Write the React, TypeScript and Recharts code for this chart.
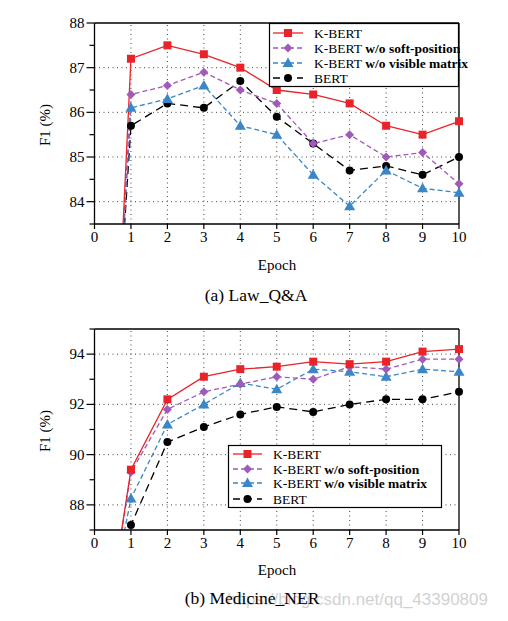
import React from "react";
import { LineChart, Line, XAxis, YAxis, ReferenceLine } from "recharts";

const epochs = [0, 1, 2, 3, 4, 5, 6, 7, 8, 9, 10];

// Law_Q&A (epoch 0 values lie below the visible range and are clipped)
const lawKBert = [70, 87.2, 87.5, 87.3, 87.0, 86.5, 86.4, 86.2, 85.7, 85.5, 85.8];
const lawSoftPos = [72, 86.4, 86.6, 86.9, 86.5, 86.2, 85.3, 85.5, 85.0, 85.1, 84.4];
const lawVisible = [72, 86.1, 86.3, 86.6, 85.7, 85.5, 84.6, 83.9, 84.7, 84.3, 84.2];
const lawBert = [73, 85.7, 86.2, 86.1, 86.7, 85.9, 85.3, 84.7, 84.8, 84.6, 85.0];

// Medicine_NER
const medKBert = [80, 89.4, 92.2, 93.1, 93.4, 93.5, 93.7, 93.6, 93.7, 94.1, 94.2];
const medSoftPos = [80, 89.3, 91.8, 92.5, 92.8, 93.1, 93.0, 93.5, 93.4, 93.8, 93.8];
const medVisible = [81, 88.25, 91.2, 92.0, 92.85, 92.6, 93.4, 93.3, 93.1, 93.4, 93.3];
const medBert = [80, 87.2, 90.5, 91.1, 91.6, 91.9, 91.7, 92.0, 92.2, 92.2, 92.5];

const xTicks = [0, 1, 2, 3, 4, 5, 6, 7, 8, 9, 10];
const lawYMajor = [84, 85, 86, 87, 88];
const lawYAll = [83.5, 84, 84.5, 85, 85.5, 86, 86.5, 87, 87.5, 88];
const medYMajor = [88, 90, 92, 94];
const medYAll = [87, 88, 89, 90, 91, 92, 93, 94, 95];

const seriesNames = ["K-BERT", "K-BERT w/o soft-position", "K-BERT w/o visible matrix", "BERT"];

const RED = "#e8232a";
const PURPLE = "#a05ab8";
const BLUE = "#3a86c6";
const BLACK = "#000000";
const SERIF = "'Liberation Serif', 'DejaVu Serif', serif";

const buildRows = (a: number[], b: number[], c: number[], d: number[]) =>
  epochs.map((e, i) => ({ epoch: e, kbert: a[i], soft: b[i], vis: c[i], bert: d[i] }));

const lawData = buildRows(lawKBert, lawSoftPos, lawVisible, lawBert);
const medData = buildRows(medKBert, medSoftPos, medVisible, medBert);

const Marker = ({ shape, color, cx, cy }: any) => {
  if (shape === "square") return <rect x={cx - 4} y={cy - 4} width={8} height={8} fill={color} />;
  if (shape === "diamond")
    return <polygon points={`${cx},${cy - 4.5} ${cx + 4.5},${cy} ${cx},${cy + 4.5} ${cx - 4.5},${cy}`} fill={color} />;
  if (shape === "triangle")
    return <polygon points={`${cx},${cy - 5.5} ${cx + 5.5},${cy + 4} ${cx - 5.5},${cy + 4}`} fill={color} />;
  return <circle cx={cx} cy={cy} r={4} fill={color} />;
};

const makeDot = (shape: string, color: string) => (p: any) => {
  const { cx, cy, index } = p;
  if (index === 0 || cx == null || cy == null) return <g key={`e${index}`} />;
  return (
    <g key={`d${index}`}>
      <Marker shape={shape} color={color} cx={cx} cy={cy} />
    </g>
  );
};

const makeYTick = (majors: number[]) => (props: any) => {
  const { x, y, payload } = props;
  const major = majors.includes(payload.value);
  return (
    <g>
      <line x1={x - (major ? 8 : 5)} x2={x} y1={y} y2={y} stroke="#000" strokeWidth={1.2} />
      {major && (
        <text x={x - 10} y={y} dy={5} textAnchor="end" fontFamily={SERIF} fontSize={15} fill="#000">
          {payload.value}
        </text>
      )}
    </g>
  );
};

const XTick = (props: any) => {
  const { x, y, payload } = props;
  return (
    <g>
      <line x1={x} x2={x} y1={y} y2={y + 5} stroke="#000" strokeWidth={1.2} />
      <text x={x} y={y + 18} textAnchor="middle" fontFamily={SERIF} fontSize={15} fill="#000">
        {payload.value}
      </text>
    </g>
  );
};

const Legend = ({ left, top, width, height, rowY, sampleX0, sampleX1, textX }: any) => {
  const items = [
    { shape: "square", color: RED, dash: undefined },
    { shape: "diamond", color: PURPLE, dash: "5 3" },
    { shape: "triangle", color: BLUE, dash: "5 3" },
    { shape: "circle", color: BLACK, dash: "7 5" },
  ];
  return (
    <svg
      width={width}
      height={height}
      style={{ position: "absolute", left, top, overflow: "visible" }}
    >
      <rect x={0.5} y={0.5} width={width - 1} height={height - 1} fill="#fff" stroke="#000" strokeWidth={1.2} />
      {items.map((it, i) => {
        const y = rowY[i];
        const name = seriesNames[i];
        const sp = name.indexOf(" ");
        const first = sp > 0 ? name.slice(0, sp) : name;
        const rest = sp > 0 ? name.slice(sp) : "";
        return (
          <g key={i}>
            <line x1={sampleX0} x2={sampleX1} y1={y} y2={y} stroke={it.color} strokeWidth={1.3} strokeDasharray={it.dash} />
            <Marker shape={it.shape} color={it.color} cx={(sampleX0 + sampleX1) / 2} cy={y} />
            <text x={textX} y={y} dy={4.5} fontFamily={SERIF} fontSize={13.5} fill="#000">
              {first}
              {rest && <tspan fontWeight="bold">{rest}</tspan>}
            </text>
          </g>
        );
      })}
    </svg>
  );
};

const Panel = ({ data, domain, majors, all, grid, top }: any) => (
  <div style={{ position: "absolute", left: 0, top }}>
    <LineChart width={508} height={260} data={data} margin={{ top: 23, right: 49, left: 64.5, bottom: 16 }}>
      <XAxis
        dataKey="epoch"
        type="number"
        domain={[0, 10]}
        ticks={xTicks}
        tickSize={0}
        tickMargin={0}
        tickLine={false}
        tick={XTick}
        height={20}
        axisLine={{ stroke: "#000", strokeWidth: 1.3 }}
        interval={0}
      />
      <YAxis
        type="number"
        domain={domain}
        allowDataOverflow
        ticks={all}
        tickSize={0}
        tickMargin={0}
        tickLine={false}
        tick={makeYTick(majors)}
        width={30}
        axisLine={{ stroke: "#000", strokeWidth: 1.3 }}
        interval={0}
      />
      {[1, 2, 3, 4, 5, 6, 7, 8, 9].map((v) => (
        <ReferenceLine key={`vx${v}`} x={v} stroke="#444" strokeWidth={1} strokeDasharray="1 3.5" />
      ))}
      {grid.map((v: number) => (
        <ReferenceLine key={`hy${v}`} y={v} stroke="#444" strokeWidth={1} strokeDasharray="1 3.5" />
      ))}
      <ReferenceLine y={domain[1]} stroke="#000" strokeWidth={1.3} />
      <ReferenceLine x={10} stroke="#000" strokeWidth={1.3} />
      <Line dataKey="bert" stroke={BLACK} strokeWidth={1.3} strokeDasharray="8 5" dot={makeDot("circle", BLACK)} isAnimationActive={false} />
      <Line dataKey="vis" stroke={BLUE} strokeWidth={1.3} strokeDasharray="5 3" dot={makeDot("triangle", BLUE)} isAnimationActive={false} />
      <Line dataKey="soft" stroke={PURPLE} strokeWidth={1.3} strokeDasharray="5 3" dot={makeDot("diamond", PURPLE)} isAnimationActive={false} />
      <Line dataKey="kbert" stroke={RED} strokeWidth={1.3} dot={makeDot("square", RED)} isAnimationActive={false} />
    </LineChart>
  </div>
);

const textStyle = (extra: any) => ({
  position: "absolute" as const,
  fontFamily: SERIF,
  color: "#000",
  whiteSpace: "nowrap" as const,
  lineHeight: 1,
  ...extra,
});

export default function App() {
  return (
    <div style={{ position: "absolute", left: 0, top: 0, width: 508, height: 621, background: "#fff", overflow: "hidden" }}>
      <Panel data={lawData} domain={[83.5, 88]} majors={lawYMajor} all={lawYAll} grid={[84, 85, 86, 87]} top={0} />
      <Panel data={medData} domain={[87, 95]} majors={medYMajor} all={medYAll} grid={[88, 90, 92, 94]} top={306} />

      <Legend left={269} top={23} width={190} height={64} rowY={[10, 25, 40, 55]} sampleX0={4} sampleX1={34} textX={45} />
      <Legend left={228} top={445} width={214} height={63} rowY={[9, 24, 38, 54]} sampleX0={5} sampleX1={34} textX={45} />

      <div style={textStyle({ left: 45, top: 125, fontSize: 15, transform: "translate(-50%, -50%) rotate(-90deg)" })}>F1 (%)</div>
      <div style={textStyle({ left: 45, top: 431, fontSize: 15, transform: "translate(-50%, -50%) rotate(-90deg)" })}>F1 (%)</div>
      <div style={textStyle({ left: 277, top: 265, fontSize: 15, transform: "translate(-50%, -50%)" })}>Epoch</div>
      <div style={textStyle({ left: 277, top: 570, fontSize: 15, transform: "translate(-50%, -50%)" })}>Epoch</div>

      <div style={textStyle({ left: 256, top: 296, fontSize: 17.5, transform: "translate(-50%, -50%)" })}>(a) Law_Q&amp;A</div>
      <div
        style={textStyle({
          right: 20,
          top: 599,
          fontSize: 17,
          fontFamily: "'Liberation Sans', Arial, sans-serif",
          color: "rgba(170,170,170,0.55)",
          transform: "translate(0, -50%)",
        })}
      >
        https://blog.csdn.net/qq_43390809
      </div>
      <div style={textStyle({ left: 252, top: 599, fontSize: 17.5, transform: "translate(-50%, -50%)" })}>(b) Medicine_NER</div>
    </div>
  );
}
